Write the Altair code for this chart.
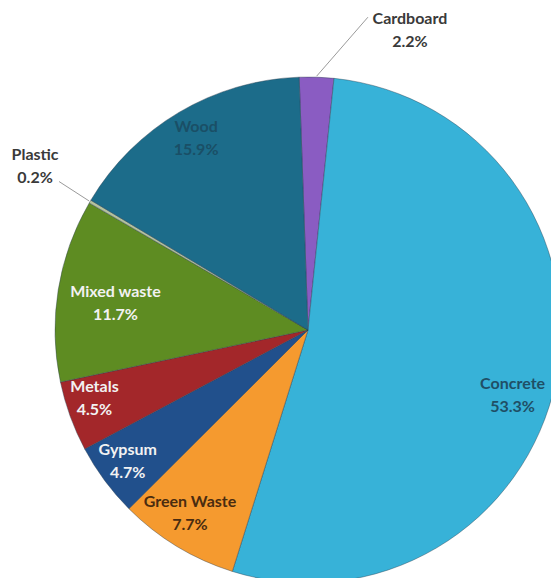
import math
import altair as alt
import pandas as pd

# ---- data ----
categories = ["Cardboard", "Concrete", "Green Waste", "Gypsum", "Metals",
              "Mixed waste", "Plastic", "Wood"]
shares = [2.2, 53.3, 7.7, 4.7, 4.5, 11.7, 0.2, 15.9]
pct_labels = ["2.2%", "53.3%", "7.7%", "4.7%", "4.5%", "11.7%", "0.2%", "15.9%"]

# ---- styling ----
colors = ["#8A5CC2", "#37B2D8", "#F59A2F", "#21508C", "#A3272A",
          "#5E8C22", "#B5C29E", "#1C6C8A"]
# label radius, dx, dy, text colour
label_style = {
    "Cardboard":   (321, 91, 10, "#3a3a3a"),
    "Concrete":    (215, -6, 11, "#1f4f66"),
    "Green Waste": (218, -5, -14, "#4a2c10"),
    "Gypsum":      (223, -1, -13, "#f2f2f2"),
    "Metals":      (224, -3, -19, "#f2f2f2"),
    "Mixed waste": (195, 0, -7, "#f2f2f2"),
    "Plastic":     (318, 1, -14, "#3a3a3a"),
    "Wood":        (222, 1, -12, "#1a4f66"),
}
# leader lines: end offset from label anchor
leader_end = {"Cardboard": (-42, -2), "Plastic": (24, 27)}

CX, CY, R = 300, 322, 253
START = math.radians(-2)
FONT = "Lato"

total = sum(shares)
starts, ends, mids = [], [], []
acc = 0.0
for s in shares:
    starts.append(acc)
    mids.append(acc + s / 2)
    acc += s
    ends.append(acc)

df = pd.DataFrame({
    "category": categories,
    "share": shares,
    "start": starts,
    "end": ends,
    "mid": mids,
    "label": [f"{c}\n{p}" for c, p in zip(categories, pct_labels)],
})

theta_scale = alt.Scale(domain=[0, total], range=[START, START + 2 * math.pi])

arcs = alt.Chart(df).mark_arc(
    radius=R, stroke="#2c3e50", strokeWidth=0.6, strokeOpacity=0.7
).encode(
    theta=alt.Theta("start:Q", scale=theta_scale),
    theta2="end:Q",
    color=alt.Color("category:N",
                    scale=alt.Scale(domain=categories, range=colors),
                    legend=None),
    x=alt.value(CX),
    y=alt.value(CY),
)


def ang(v):
    return START + 2 * math.pi * v / total


rows = []
for cat, mid in zip(categories, mids):
    if cat in leader_end:
        r, dx, dy, _ = label_style[cat]
        a = ang(mid)
        lx = CX + r * math.sin(a) + dx
        ly = CY - r * math.cos(a) + dy
        ex, ey = leader_end[cat]
        rows.append({
            "x": CX + (R + 1) * math.sin(a),
            "y": CY - (R + 1) * math.cos(a),
            "x2": lx + ex,
            "y2": ly + ey,
        })
leaders = alt.Chart(pd.DataFrame(rows)).mark_rule(
    color="#9a9a9a", strokeWidth=1
).encode(
    x=alt.X("x:Q", scale=None),
    y=alt.Y("y:Q", scale=None),
    x2="x2:Q",
    y2="y2:Q",
)

layers = [arcs, leaders]
for cat in categories:
    r, dx, dy, col = label_style[cat]
    layers.append(
        alt.Chart(df).transform_filter(alt.datum.category == cat).mark_text(
            radius=r, dx=dx, dy=dy, font=FONT, fontSize=16, fontWeight="bold",
            lineBreak="\n", lineHeight=23, align="center", baseline="middle",
            color=col,
        ).encode(
            theta=alt.Theta("mid:Q", scale=theta_scale),
            text="label:N",
            x=alt.value(CX),
            y=alt.value(CY),
        )
    )

chart = alt.layer(*layers).properties(
    width=543, height=570, padding=0,
    autosize=alt.AutoSizeParams(type="none"),
).configure_view(stroke=None)

chart.save("out.html", embed_options={"renderer": "svg", "actions": False})
